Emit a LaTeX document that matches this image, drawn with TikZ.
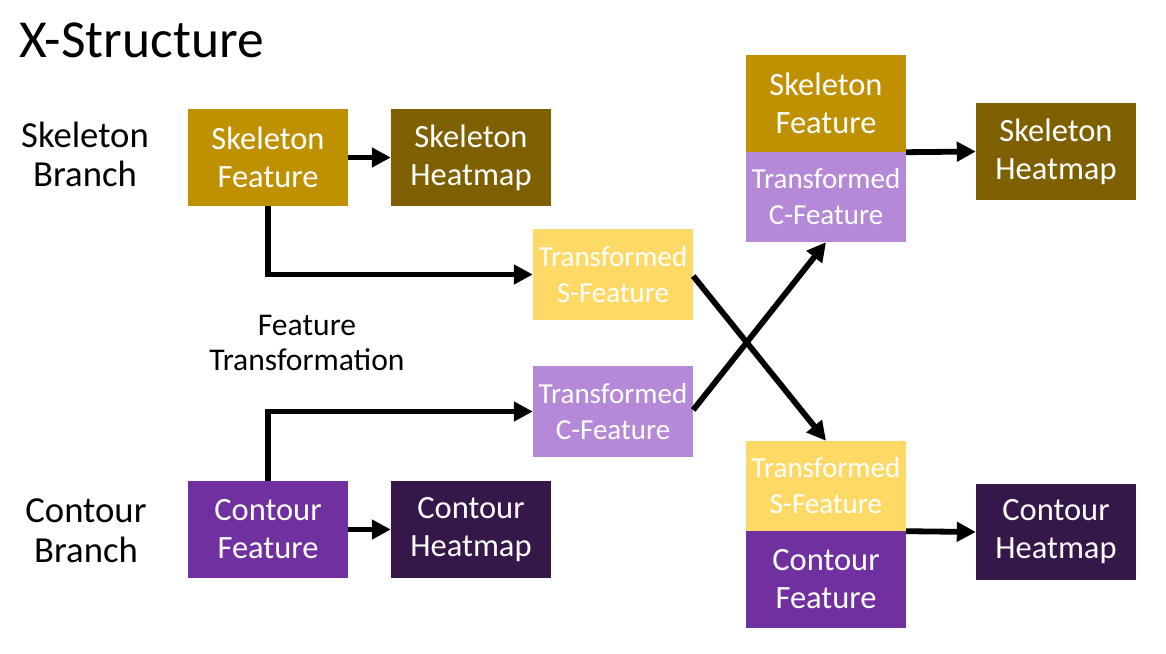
\documentclass[tikz,border=0pt]{standalone}
\usepackage{fontspec}
\setmainfont{Carlito}
\usetikzlibrary{arrows.meta}
\definecolor{skf}{HTML}{BF9000}
\definecolor{skh}{HTML}{7F6000}
\definecolor{tsf}{HTML}{FFD966}
\definecolor{tcf}{HTML}{B589D8}
\definecolor{cof}{HTML}{7030A0}
\definecolor{coh}{HTML}{35174A}
\begin{document}
\begin{tikzpicture}[x=1pt,y=-1pt,
  box/.style={rectangle, inner sep=0pt, minimum width=160pt, minimum height=97pt, text=white, align=center, font=\fontsize{32.5}{38}\selectfont},
  tbox/.style={box, minimum height=91pt, font=\fontsize{29}{36}\selectfont},
  lbl/.style={align=center, inner sep=0pt, anchor=base},
  arr/.style={line width=5.8pt, -{Triangle[length=19pt,width=19pt]}}]
\useasboundingbox (0,0) rectangle (1166,653);
\fill[white] (0,0) rectangle (1166,653);

\node[inner sep=0pt, anchor=base west, font=\fontsize{53.5}{60}\selectfont] (title) at (19,57) {X-Structure};
\node[lbl, font=\fontsize{36.7}{39}\selectfont] (skb) at (85,186) {Skeleton\\Branch};
\node[lbl, font=\fontsize{36.7}{40}\selectfont] (cob) at (86,562) {Contour\\Branch};
\node[lbl, font=\fontsize{31.6}{35}\selectfont] (ft) at (307,370) {Feature\\Transformation};

\node[box, fill=skf] (sf) at (268,157.5) {Skeleton\\Feature};
\node[box, fill=skh] (sh) at (471,157.5) {Skeleton\\Heatmap};
\node[tbox, fill=tsf] (ts) at (613,274.5) {Transformed\\S-Feature};
\node[tbox, fill=tcf] (tc) at (613,411.5) {Transformed\\C-Feature};
\node[box, fill=cof] (cf) at (268,529.5) {Contour\\Feature};
\node[box, fill=coh] (ch) at (471,529.5) {Contour\\Heatmap};

\node[box, fill=skf] (rsf) at (826,103.5) {Skeleton\\Feature};
\node[tbox, fill=tcf, minimum height=90pt] (rtc) at (826,197) {Transformed\\C-Feature};
\node[box, fill=skh] (rsh) at (1056,151.5) {Skeleton\\Heatmap};
\node[tbox, fill=tsf, minimum height=90pt] (rts) at (826,486) {Transformed\\S-Feature};
\node[box, fill=cof] (rcf) at (826,579.5) {Contour\\Feature};
\node[box, fill=coh, minimum height=96pt] (rch) at (1056,532) {Contour\\Heatmap};

\draw[arr] (sf.east) -- (sh.west);
\draw[arr] (cf.east) -- (ch.west);
\draw[arr] (sf.south) |- (ts.west);
\draw[arr] (cf.north) |- (tc.west);
\draw[arr] ([yshift=-1.5pt]ts.east) -- (rts.north);
\draw[arr] ([yshift=1.5pt]tc.east) -- (rtc.south);
\draw[arr] (rsf.south east) -- (rsh.west);
\draw[arr] (rts.south east) -- (rch.west);
\end{tikzpicture}
\end{document}
